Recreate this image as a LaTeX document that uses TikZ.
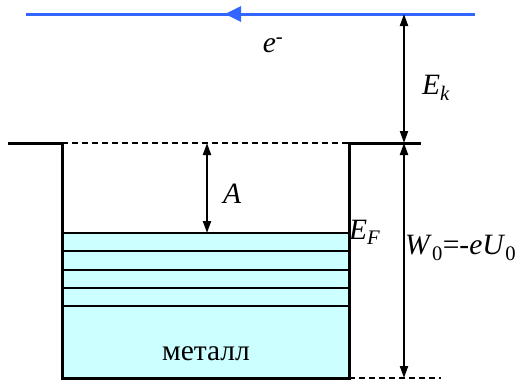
\documentclass[tikz,border=0pt]{standalone}
\usepackage{fontspec}
\setmainfont{Liberation Serif}
\newfontfamily\lblfont{Liberation Serif}
\usetikzlibrary{arrows.meta}
\definecolor{metal}{RGB}{204,255,255}
\definecolor{eline}{RGB}{51,102,255}
\begin{document}
\begin{tikzpicture}[x=1pt,y=-1pt,
  wall/.style={line width=3pt,line join=miter},
  level/.style={line width=1.5pt},
  dashlevel/.style={line width=1.3pt,dash pattern=on 6pt off 4pt},
  dim/.style={line width=2pt,{Triangle[length=12pt,width=8pt]}-{Triangle[length=12pt,width=8pt]}},
  lbl/.style={inner sep=0pt,font=\lblfont\fontsize{29.5}{34}\selectfont}]
\useasboundingbox (0,0) rectangle (522,383);
% metal fill
\fill[metal] (62,233) rectangle (349,378);
\foreach \y in {233,251,270,288,306} \draw[level] (62,\y) -- (349,\y);
% coordinates
\coordinate (tl) at (8,143);
\coordinate (wl) at (62,143);
\coordinate (bl) at (62,378);
\coordinate (br) at (349,378);
\coordinate (wr) at (349,143);
\coordinate (tr) at (421,143);
\coordinate (bd) at (441,378);
\coordinate (e1) at (475,14);
\coordinate (e0) at (26,14);
\coordinate (ek1) at (404,14);
\coordinate (ek2) at (404,143);
\coordinate (w2) at (404,378);
\coordinate (a1) at (207,143);
\coordinate (a2) at (207,233);
% well
\draw[wall] (tl) -- (wl) -- (bl) -- (br) -- (wr) -- (tr);
\draw[dashlevel] (wl) -- (wr);
\draw[dashlevel] (br) -- (bd);
% electron line
\draw[eline,line width=3pt] (e1) -- (e0);
\fill[eline] (225,14) -- (241,6) -- (241,22) -- cycle;
% dimension arrows
\draw[dim] (ek1) -- (ek2);
\draw[dim] (ek2) -- (w2);
\draw[dim] (a1) -- (a2);
% labels
\node[lbl] (le) at (273,45) {\textit{e}\textsuperscript{-}};
\node[lbl,anchor=west] (lek) at (422,88) {\textit{E}\textsubscript{\textit{k}}};
\node[lbl,anchor=west] (la) at (223,194) {\textit{A}};
\node[lbl,anchor=west] (lef) at (349,232) {\textit{E}\textsubscript{\textit{F}}};
\node[lbl,anchor=west] (lw) at (405,248) {\textit{W}\textsubscript{0}=-\textit{eU}\textsubscript{0}};
\node[lbl] (lm) at (206,354) {металл};
\end{tikzpicture}
\end{document}
